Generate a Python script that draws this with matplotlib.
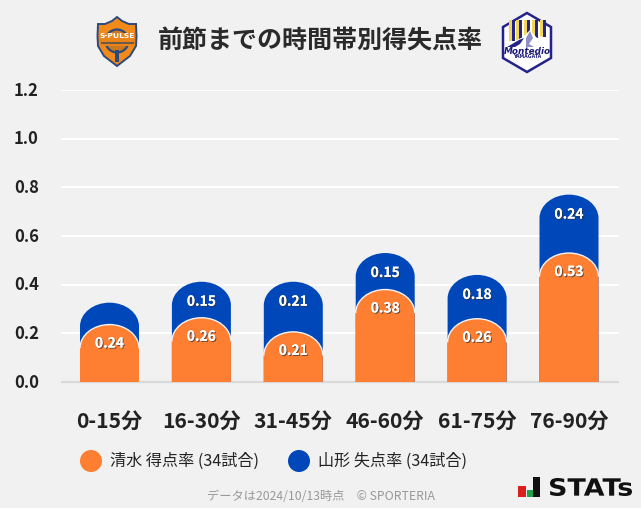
import matplotlib
matplotlib.use("Agg")
import matplotlib.pyplot as plt
import matplotlib.patheffects as pe
from matplotlib.path import Path
from matplotlib.textpath import TextPath
from matplotlib.font_manager import FontProperties
from matplotlib.transforms import Affine2D
from matplotlib.patches import PathPatch, Polygon, Circle, Rectangle

plt.rcParams['font.family'] = ['Noto Sans CJK JP', 'DejaVu Sans']

categories = ['0-15分', '16-30分', '31-45分', '46-60分', '61-75分', '76-90分']
shimizu = [0.236, 0.264, 0.206, 0.38, 0.26, 0.53]
yamagata = [0.09, 0.148, 0.206, 0.15, 0.18, 0.24]
yamagata_labels = ['', '0.15', '0.21', '0.15', '0.18', '0.24']
shimizu_labels = ['0.24', '0.26', '0.21', '0.38', '0.26', '0.53']
yticks = [0.0, 0.2, 0.4, 0.6, 0.8, 1.0, 1.2]

ORANGE = '#ff7f32'
BLUE = '#0047b9'
BG = '#f1f1f1'
W, H = 641, 508
BAR_W = 0.642
DOME = 0.097  # 丸い部分の高さ
K = 0.5523


def dome_path(x, top, closed=True):
    l, r = x - BAR_W / 2, x + BAR_W / 2
    rx = BAR_W / 2
    s = top - DOME
    verts = [(l, s), (l, s + DOME * K), (x - rx * K, top), (x, top),
             (x + rx * K, top), (r, s + DOME * K), (r, s)]
    codes = [Path.MOVETO] + [Path.CURVE4] * 6
    if closed:
        verts = verts + [(r, 0), (l, 0), (l, s)]
        codes = codes + [Path.LINETO, Path.LINETO, Path.CLOSEPOLY]
    return Path(verts, codes)


fig = plt.figure(figsize=(W / 100, H / 100), dpi=100, facecolor=BG)

# グラフ本体
ax = fig.add_axes([61 / W, 1 - 382 / H, 558 / W, 292 / H], facecolor=BG)
step = 91.9
ax.set_xlim((61 - 109.5) / step, (619 - 109.5) / step)
ax.set_ylim(0, 1.2)
for s in ax.spines.values():
    s.set_visible(False)
ax.set_yticks(yticks)
ax.set_yticklabels(['%.1f' % v for v in yticks], fontsize=12, fontweight='bold', color='#222222')
ax.set_xticks(range(len(categories)))
ax.set_xticklabels(categories, fontsize=15.2, fontweight='bold', color='#222222')
ax.tick_params(length=0)
ax.tick_params(axis='y', pad=16)
ax.tick_params(axis='x', pad=20.5)
for lab in ax.get_yticklabels():
    lab.set_transform(lab.get_transform() + Affine2D().translate(0, 1.5))
ax.grid(axis='y', color='white', lw=1.5)
ax.set_axisbelow(True)
ax.plot([0, 1], [0, 0], transform=ax.get_yaxis_transform(), color='#d9d9d9', lw=1.6, clip_on=False,
        solid_capstyle='butt', zorder=1.5)

shadow = [pe.withSimplePatchShadow(offset=(0.8, -0.8), shadow_rgbFace='#333333', alpha=0.7), pe.Normal()]
for i in range(len(categories)):
    total = shimizu[i] + yamagata[i]
    ax.add_patch(PathPatch(dome_path(i, total), fc=BLUE, ec='none', zorder=2))
    ax.add_patch(PathPatch(dome_path(i, shimizu[i]), fc=ORANGE, ec='none', zorder=3))
    ax.add_patch(PathPatch(dome_path(i, shimizu[i], closed=False), fc='none', ec='#f4f4f4', lw=1.0, zorder=4))
    ax.text(i, shimizu[i] - 0.078, shimizu_labels[i], color='white', fontsize=10, fontweight='bold',
            ha='center', va='center', zorder=5, path_effects=shadow)
    if yamagata_labels[i]:
        ax.text(i, total - 0.082, yamagata_labels[i], color='white', fontsize=10, fontweight='bold',
                ha='center', va='center', zorder=5, path_effects=shadow)

# タイトル、凡例、ロゴはピクセル座標で置く
ov = fig.add_axes([0, 0, 1, 1], facecolor='none')
ov.set_xlim(0, W)
ov.set_ylim(H, 0)
ov.axis('off')

ov.text(320.5, 41, '前節までの時間帯別得失点率', fontsize=18, fontweight='bold', color='#2a2a2a',
        ha='center', va='center')

ov.add_patch(Circle((91, 461), 11, fc=ORANGE, ec='none'))
ov.add_patch(Circle((299, 461), 11, fc=BLUE, ec='none'))
ov.text(110, 461, '清水 得点率 (34試合)', fontsize=11.6, color='#222222', va='center')
ov.text(318, 461, '山形 失点率 (34試合)', fontsize=11.6, color='#222222', va='center')
ov.text(320.5, 497, 'データは2024/10/13時点　© SPORTERIA', fontsize=8.8, color='#999999',
        ha='center', va='center')

# 清水のエンブレム
NAVY = '#2b4a7d'
shield_v = [(98, 24), (105, 24), (112, 21), (117, 17), (122, 21), (129, 24), (136, 24),
            (136.5, 36), (136, 46), (130, 56), (117, 66), (104, 56), (98, 46), (97.5, 36), (98, 24)]
ov.add_patch(Polygon(shield_v, closed=True, fc='#f28a1a', ec=NAVY, lw=1.4))
ov.add_patch(Circle((117, 41), 11.5, fc='#c9781f', ec=NAVY, lw=1.6))
ov.add_patch(Rectangle((115, 50), 4, 12, fc=NAVY, ec='none'))
ov.add_patch(Rectangle((99, 33), 36, 13, fc='#e8841a', ec='none'))
ov.text(117, 36.5, 'S-PULSE', fontsize=5.4, fontweight='bold', color='white', ha='center', va='center',
        family='DejaVu Sans')
ov.add_patch(Rectangle((100.5, 42), 33, 1.6, fc='#6b5a45', ec='none'))

# 山形のエンブレム
MNAVY = '#23238a'
hexagon = [(527, 13), (551, 27), (551, 58), (527, 72), (503, 58), (503, 27)]
ov.add_patch(Polygon(hexagon, closed=True, fc='white', ec=MNAVY, lw=1.8))
stripes = [(509, '#f0d75a'), (512, MNAVY), (516, '#f0d75a'), (519, MNAVY), (524, '#f0d75a'), (527, MNAVY),
           (532, '#f0d75a'), (535, MNAVY), (540, '#f0d75a'), (543, MNAVY)]
for x0, c in stripes:
    ov.add_patch(Rectangle((x0, 20), 3.2, 21 if x0 < 542 else 17, fc=c, ec='none'))
ov.add_patch(Polygon([(505, 48), (515, 41), (523, 37), (530, 30), (537, 38), (542, 36), (549, 46), (549, 48)],
                     closed=True, fc='white', ec='none'))
ov.add_patch(Polygon([(507, 47), (519, 40), (524, 38), (520, 44), (515, 47)], closed=True, fc=MNAVY, ec='none'))
ov.add_patch(Polygon([(530, 31), (533, 38), (529, 44), (534, 47), (526, 47), (526, 38)], closed=True,
                     fc='#8f8fc8', ec='none'))
ov.text(527, 51, 'Montedio', fontsize=6.4, fontweight='bold', fontstyle='italic', color='#1c1c78',
        ha='center', va='center', family='DejaVu Sans')
ov.text(527, 56.5, 'YAMAGATA', fontsize=3.4, fontweight='bold', color='#1c1c78', ha='center', va='center',
        family='DejaVu Sans')

# STATS ロゴ
ov.add_patch(Rectangle((518, 486), 8, 11, fc='#d9201f', ec='none'))
ov.add_patch(Rectangle((527, 490), 5.5, 7, fc='#1ea34a', ec='none'))
ov.add_patch(Rectangle((533, 477), 7, 20, fc='#111111', ec='none'))
tp = TextPath((0, 0), 'STATs', size=10, prop=FontProperties(family='DejaVu Sans', weight='bold'))
bb = tp.get_extents()
sx = (632 - 550) / bb.width
sy = (496 - 478) / bb.height
tf = Affine2D().translate(-bb.x0, -bb.y0).scale(sx, -sy).translate(550, 496)
ov.add_patch(PathPatch(tf.transform_path(tp), fc='#111111', ec='none'))

fig.savefig('out.png', dpi=100, facecolor=BG)
